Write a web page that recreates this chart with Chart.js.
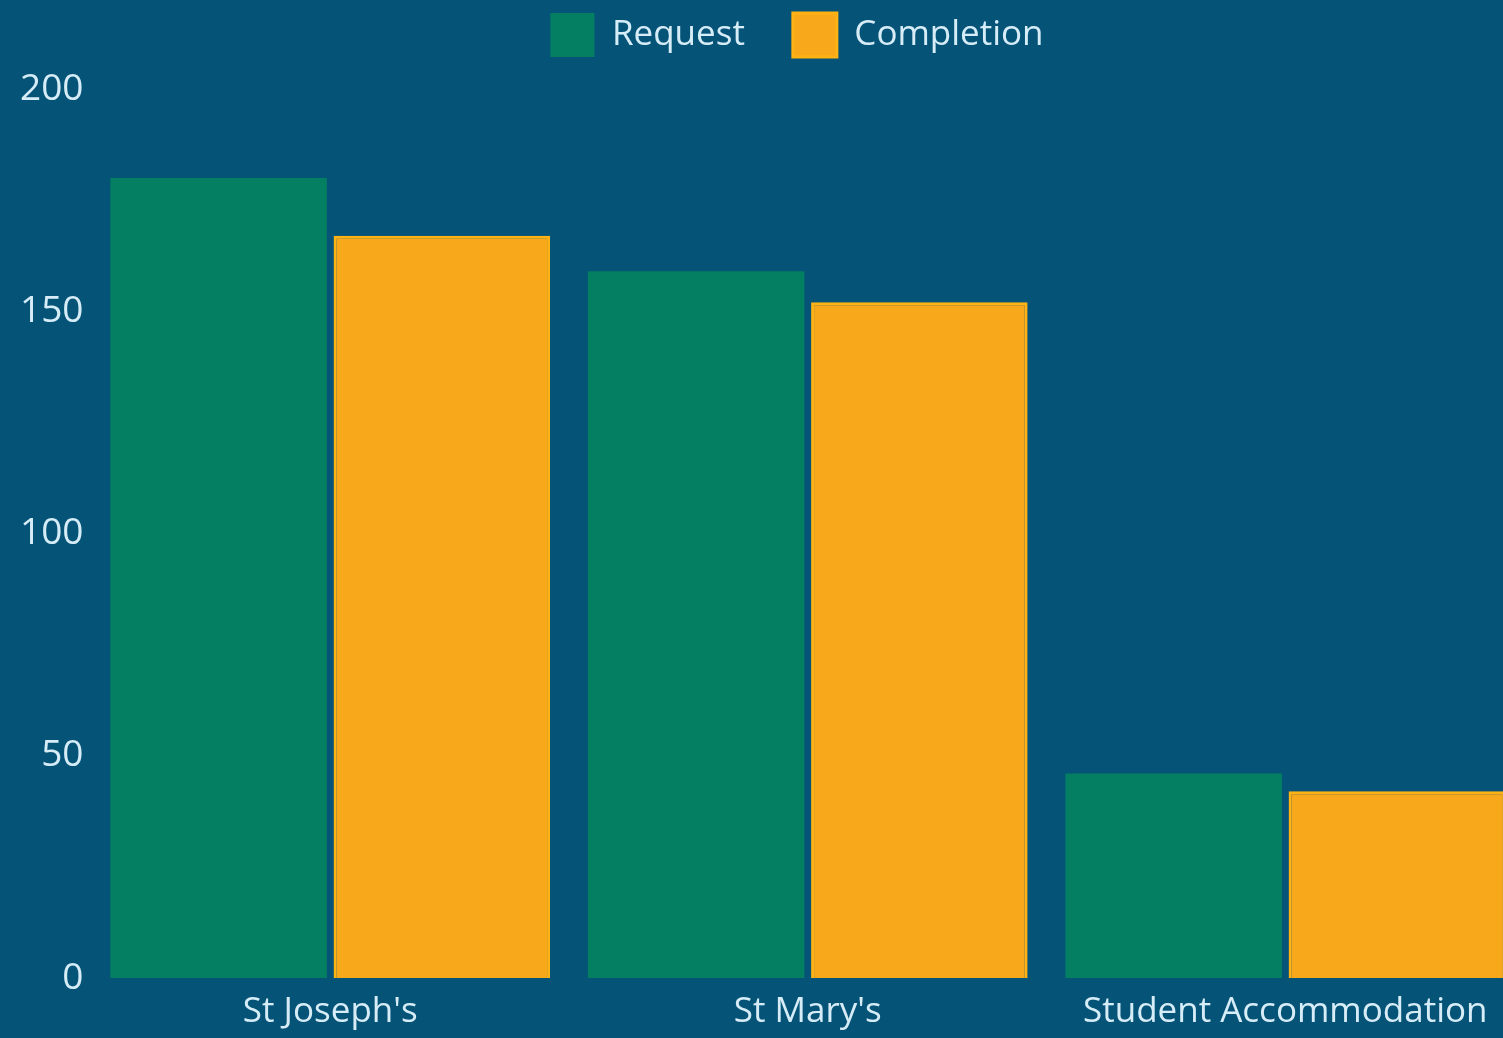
<!DOCTYPE html>
<html>
<head>
<meta charset="utf-8">
<script src="https://cdn.jsdelivr.net/npm/chart.js@4"></script>
<style>
  html, body { margin: 0; padding: 0; background: #055478; overflow: hidden; width: 1503px; height: 1038px; }
  #wrap { position: absolute; left: 0; top: 0; width: 1524px; height: 1038px; }
</style>
</head>
<body>
<div id="wrap"><canvas id="c"></canvas></div>
<script>
const categories = ["St Joseph's", "St Mary's", "Student Accommodation"];
const requestValues = [180, 159, 46];
const completionValues = [167, 152, 42];
const seriesNames = ["Request", "Completion"];
const yTicks = [0, 50, 100, 150, 200];

const textColor = '#d6ecf7';
const fontFamily = '"Open Sans", sans-serif';

const legendShift = {
  id: 'legendShift',
  afterLayout(chart) {
    const l = chart.legend;
    if (l) { l.left += 29; l.right += 29; l.top -= 22; l.bottom -= 22; }
  }
};

new Chart(document.getElementById('c'), {
  type: 'bar',
  data: {
    labels: categories,
    datasets: [
      { label: seriesNames[0], data: requestValues, backgroundColor: '#047f62', borderColor: '#047f62', borderWidth: 0 },
      { label: seriesNames[1], data: completionValues, backgroundColor: '#f8a81b', borderColor: '#ffb214', borderWidth: 3 }
    ]
  },
  options: {
    responsive: true,
    maintainAspectRatio: false,
    animation: false,
    datasets: { bar: { categoryPercentage: 0.935, barPercentage: 0.97 } },
    layout: { padding: { left: 12, right: 0, top: -13, bottom: -8 } },
    plugins: {
      legend: {
        position: 'top',
        labels: {
          color: textColor,
          font: { family: fontFamily, size: 35 },
          boxWidth: 44,
          boxHeight: 44,
          padding: 48
        }
      },
      tooltip: { enabled: false }
    },
    scales: {
      x: {
        grid: { display: false, drawTicks: false },
        border: { display: false },
        ticks: { color: textColor, font: { family: fontFamily, size: 35 }, padding: 13, maxRotation: 0, autoSkip: false }
      },
      y: {
        min: 0, max: 200,
        afterBuildTicks(axis) { axis.ticks = yTicks.map(v => ({ value: v })); },
        grid: { display: false, drawTicks: false },
        border: { display: false },
        ticks: { color: textColor, font: { family: fontFamily, size: 37 }, padding: 8 }
      }
    }
  },
  plugins: [legendShift]
});
</script>
</body>
</html>
